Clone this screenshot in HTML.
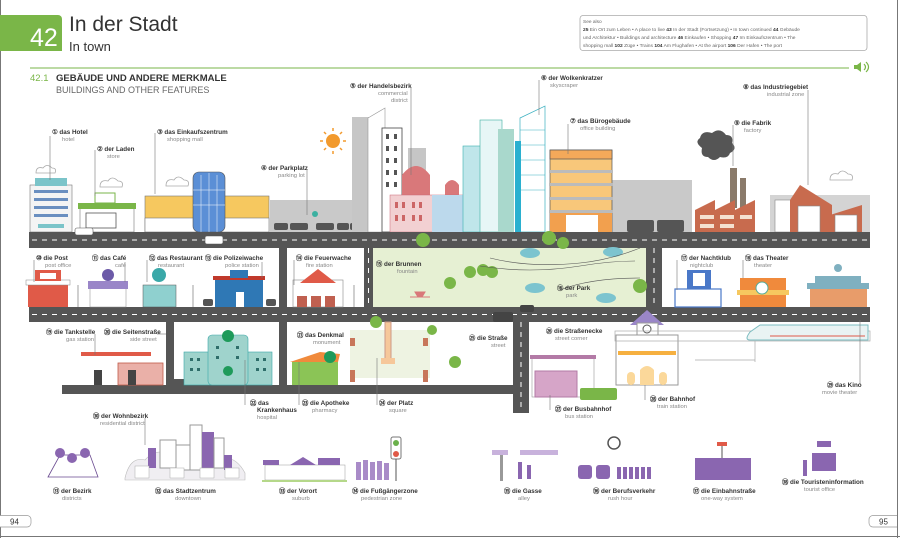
<!DOCTYPE html>
<html><head><meta charset="utf-8"><style>
html,body{margin:0;padding:0;background:#fff}
svg{display:block}
text{font-family:"Liberation Sans",sans-serif}
.b{font-size:6.3px;font-weight:bold;fill:#333}
.t{font-size:5.8px;fill:#888}
</style></head><body>
<svg width="900" height="538" viewBox="0 0 900 538" xmlns="http://www.w3.org/2000/svg">
<rect width="900" height="538" fill="#fff"/>
<line x1="0.5" y1="0" x2="0.5" y2="538" stroke="#777"/>
<line x1="897.5" y1="0" x2="897.5" y2="538" stroke="#777"/>
<line x1="0" y1="536.5" x2="900" y2="536.5" stroke="#777"/>
<!-- header -->
<path d="M0 15 H58 a4 4 0 0 1 4 4 V51 H0Z" fill="#7ab648"/>
<text x="30" y="46" font-size="25" fill="#fff">42</text>
<text x="69" y="31" font-size="21" fill="#333">In der Stadt</text>
<text x="69" y="51" font-size="13" fill="#333">In town</text>
<rect x="580" y="15.5" width="287" height="35" rx="3" fill="#fff" stroke="#aaa" stroke-width="0.8"/>
<text x="583" y="23" font-size="4.8" fill="#666">See also</text>
<text x="583" y="31" font-size="4.9" fill="#666"><tspan font-weight="bold" fill="#333">25</tspan> Ein Ort zum Leben • A place to live  <tspan font-weight="bold" fill="#333">43</tspan> In der Stadt (Fortsetzung) • In town continued  <tspan font-weight="bold" fill="#333">44</tspan> Gebäude</text>
<text x="583" y="39" font-size="4.9" fill="#666">und Architektur • Buildings and architecture  <tspan font-weight="bold" fill="#333">46</tspan> Einkaufen • Shopping  <tspan font-weight="bold" fill="#333">47</tspan> Im Einkaufszentrum • The</text>
<text x="583" y="47" font-size="4.9" fill="#666">shopping mall  <tspan font-weight="bold" fill="#333">102</tspan> Züge • Trains  <tspan font-weight="bold" fill="#333">104</tspan> Am Flughafen • At the airport  <tspan font-weight="bold" fill="#333">106</tspan> Der Hafen • The port</text>
<line x1="30" y1="68" x2="849" y2="68" stroke="#7ab648" stroke-width="1"/>
<path d="M854 65 h3 l4 -3 v10 l-4 -3 h-3z" fill="#7ab648"/>
<path d="M864 64 q3 3 0 6 M866 62 q5 5 0 10" stroke="#7ab648" fill="none" stroke-width="1.2"/>
<text x="30" y="81" font-size="9.5" fill="#7ab648">42.1</text>
<text x="56" y="81" font-size="9.5" font-weight="bold" fill="#333">GEBÄUDE UND ANDERE MERKMALE</text>
<text x="56" y="93" font-size="9" fill="#666">BUILDINGS AND OTHER FEATURES</text>

<!-- skyline background -->
<rect x="270" y="200" width="90" height="32" fill="#c9c9c9"/>
<rect x="612" y="180" width="80" height="52" fill="#c9c9c9"/>
<rect x="770" y="195" width="100" height="37" fill="#d4d4d4"/>
<!-- hotel -->
<rect x="30" y="185" width="42" height="47" fill="#f4f4f4" stroke="#777" stroke-width="0.6"/>
<rect x="35" y="178" width="32" height="8" fill="#7bc4c9"/>
<g fill="#6a8fc0"><rect x="34" y="190" width="34" height="3"/><rect x="34" y="198" width="34" height="3"/><rect x="34" y="206" width="34" height="3"/><rect x="34" y="214" width="34" height="3"/></g>
<rect x="38" y="224" width="26" height="4" fill="#7bc4c9"/>
<!-- laden -->
<rect x="80" y="205" width="54" height="27" fill="#fff" stroke="#777" stroke-width="0.6"/>
<rect x="78" y="203" width="58" height="6" fill="#7ab648"/>
<rect x="95" y="193" width="20" height="10" fill="#fff" stroke="#7ab648"/>
<rect x="86" y="213" width="30" height="15" fill="#fff" stroke="#555" stroke-width="0.8"/>
<!-- mall -->
<rect x="145" y="196" width="124" height="36" fill="#f6c85f" stroke="#777" stroke-width="0.6"/>
<rect x="145" y="218" width="124" height="14" fill="#fff" stroke="#777" stroke-width="0.6"/>
<rect x="193" y="172" width="32" height="60" rx="6" fill="#5b8fd6" stroke="#555" stroke-width="0.6"/>
<g stroke="#fff" stroke-width="0.5"><line x1="201" y1="175" x2="201" y2="232"/><line x1="209" y1="173" x2="209" y2="232"/><line x1="217" y1="175" x2="217" y2="232"/><line x1="193" y1="190" x2="225" y2="190"/><line x1="193" y1="205" x2="225" y2="205"/></g>
<!-- parking cars -->
<g fill="#555"><rect x="274" y="223" width="14" height="7" rx="2"/><rect x="290" y="223" width="18" height="7" rx="2"/><rect x="316" y="223" width="18" height="7" rx="2"/><rect x="337" y="223" width="12" height="7" rx="2"/><rect x="350" y="223" width="10" height="7" rx="2"/></g>
<circle cx="315" cy="214" r="3" fill="#3bb0a0"/>
<!-- sun -->
<circle cx="333" cy="141" r="7" fill="#f29a2e"/>
<g stroke="#f29a2e" stroke-width="1.5"><line x1="333" y1="128" x2="333" y2="131"/><line x1="333" y1="151" x2="333" y2="154"/><line x1="320" y1="141" x2="323" y2="141"/><line x1="343" y1="141" x2="346" y2="141"/><line x1="324" y1="132" x2="326" y2="134"/><line x1="340" y1="148" x2="342" y2="150"/><line x1="342" y1="132" x2="340" y2="134"/><line x1="324" y1="150" x2="326" y2="148"/></g>
<!-- commercial district -->
<rect x="352" y="117" width="26" height="115" fill="#c6c6c6"/>
<path d="M368 118 L385 108 V232 H368Z" fill="#fff" stroke="#999" stroke-width="0.6"/>
<rect x="382" y="128" width="20" height="104" fill="#fff" stroke="#444" stroke-width="0.8"/>
<g fill="#555"><rect x="386" y="134" width="3" height="5"/><rect x="394" y="134" width="3" height="5"/><rect x="386" y="146" width="3" height="5"/><rect x="394" y="146" width="3" height="5"/><rect x="386" y="158" width="3" height="5"/><rect x="394" y="158" width="3" height="5"/><rect x="386" y="170" width="3" height="5"/><rect x="394" y="170" width="3" height="5"/><rect x="386" y="182" width="3" height="5"/><rect x="394" y="182" width="3" height="5"/></g>
<rect x="408" y="148" width="18" height="84" fill="#c6c6c6"/>
<path d="M402 175 q14 -18 28 0 V232 H402Z" fill="#d9787a"/>
<path d="M445 185 q7 -10 14 0 V232 H445Z" fill="#d9787a"/>
<rect x="390" y="195" width="108" height="37" fill="#f2d0d2" stroke="#c67" stroke-width="0.5"/>
<rect x="432" y="195" width="40" height="37" fill="#bcd9ec"/>
<g fill="#c66"><rect x="395" y="202" width="3" height="6"/><rect x="402" y="202" width="3" height="6"/><rect x="395" y="215" width="3" height="6"/><rect x="402" y="215" width="3" height="6"/><rect x="412" y="202" width="3" height="6"/><rect x="419" y="202" width="3" height="6"/><rect x="412" y="215" width="3" height="6"/><rect x="419" y="215" width="3" height="6"/><rect x="480" y="202" width="3" height="6"/><rect x="487" y="202" width="3" height="6"/><rect x="480" y="215" width="3" height="6"/><rect x="487" y="215" width="3" height="6"/></g>
<!-- skyscrapers -->
<rect x="463" y="146" width="20" height="86" fill="#bfe6ea" stroke="#3bb0b0" stroke-width="0.6"/>
<rect x="480" y="120" width="22" height="112" fill="#e7f6f6" stroke="#3bb0a0" stroke-width="0.6"/>
<rect x="498" y="129" width="16" height="103" fill="#a9d8cc"/>
<path d="M520 118 L545 106 V232 H520Z" fill="#fff" stroke="#3ab0c0" stroke-width="0.7"/>
<rect x="515" y="141" width="6" height="91" fill="#2ab0d0"/>
<g stroke="#3ab0c0" stroke-width="0.5"><line x1="520" y1="130" x2="545" y2="130"/><line x1="520" y1="145" x2="545" y2="145"/><line x1="520" y1="160" x2="545" y2="160"/><line x1="520" y1="175" x2="545" y2="175"/><line x1="520" y1="190" x2="545" y2="190"/></g>
<!-- office -->
<rect x="550" y="150" width="62" height="82" fill="#f8c77a" stroke="#555" stroke-width="0.7"/>
<rect x="550" y="150" width="62" height="9" fill="#f4a95a" stroke="#555" stroke-width="0.7"/>
<g fill="#bbb"><rect x="549" y="170" width="64" height="3"/><rect x="549" y="183" width="64" height="3"/><rect x="549" y="197" width="64" height="3"/><rect x="549" y="210" width="64" height="3"/></g>
<rect x="550" y="213" width="62" height="19" fill="#f2a04e"/>
<rect x="566" y="215" width="32" height="17" fill="#fff"/>
<!-- vans -->
<g fill="#555"><rect x="627" y="220" width="27" height="12" rx="2"/><rect x="657" y="220" width="27" height="12" rx="2"/></g>
<!-- factory -->
<path d="M702 148 q-8 -6 -2 -10 q2 -8 12 -5 q8 -6 14 2 q8 0 6 8 q6 6 -2 10 q-2 6 -10 4 q-6 6 -12 0 q-8 0 -6 -9z" fill="#555"/>
<rect x="730" y="168" width="7" height="40" fill="#8a7a6a"/>
<rect x="740" y="178" width="6" height="30" fill="#8a7a6a"/>
<path d="M695 210 L715 200 V210 L735 200 V210 L755 200 V232 H695Z" fill="#c86b4e"/>
<g fill="#f4e0d0"><rect x="700" y="215" width="14" height="4"/><rect x="720" y="215" width="14" height="4"/><rect x="740" y="215" width="12" height="4"/><rect x="700" y="224" width="14" height="4"/><rect x="720" y="224" width="14" height="4"/></g>
<!-- industrial -->
<rect x="775" y="200" width="42" height="32" fill="#fff" stroke="#888" stroke-width="0.6"/>
<path d="M790 200 L800 185 L832 205 V232 H790Z" fill="#c86b4e"/>
<rect x="798" y="206" width="22" height="26" fill="#fff" stroke="#888" stroke-width="0.6"/>
<path d="M830 215 L862 205 V232 H830Z" fill="#c86b4e"/>
<rect x="835" y="215" width="22" height="17" fill="#fff" stroke="#888" stroke-width="0.6"/>
<rect x="760" y="233" width="38" height="12" rx="2" fill="#555"/><rect x="764" y="236" width="30" height="4" fill="#fff"/>
<g fill="none" stroke="#aaa" stroke-width="0.8"><path d="M100 187 q0 -8 8 -6 q4 -6 10 0 q6 0 4 6z"/><path d="M166 186 q0 -8 8 -6 q4 -6 10 0 q6 0 4 6z"/><path d="M830 180 q0 -8 8 -6 q4 -6 10 0 q6 0 4 6z"/><path d="M36 173 q0 -7 7 -5 q4 -5 9 0 q5 0 3 5z"/></g>

<!-- green areas -->
<rect x="373" y="248" width="273" height="59" fill="#e6f0d3"/>
<rect x="350" y="330" width="80" height="48" fill="#eef3e2"/>
<!-- roads -->
<g fill="#555">
<rect x="29" y="232" width="841" height="16"/>
<rect x="29" y="307" width="841" height="15"/>
<rect x="279" y="248" width="8" height="137"/>
<rect x="364" y="248" width="9" height="59"/>
<rect x="646" y="248" width="16" height="59"/>
<rect x="166" y="322" width="8" height="63"/>
<rect x="62" y="385" width="466" height="9"/>
<rect x="513" y="322" width="16" height="91"/>
</g>
<g stroke="#fff" stroke-width="1" stroke-dasharray="5 5">
<line x1="32" y1="240" x2="870" y2="240"/>
<line x1="32" y1="314.5" x2="870" y2="314.5"/>
<line x1="368.5" y1="248" x2="368.5" y2="307"/>
<line x1="654" y1="248" x2="654" y2="307"/>
<line x1="521" y1="322" x2="521" y2="412"/>
</g>
<rect x="205" y="236" width="18" height="8" rx="2" fill="#fff" stroke="#555" stroke-width="0.6"/>
<rect x="75" y="228" width="18" height="7" rx="2" fill="#fff" stroke="#555" stroke-width="0.6"/>
<!-- park items -->
<g fill="#7ab648"><circle cx="423" cy="240" r="7"/><circle cx="470" cy="272" r="6"/><circle cx="483" cy="270" r="6"/><circle cx="492" cy="272" r="6"/><circle cx="450" cy="283" r="6"/><circle cx="376" cy="322" r="6"/><circle cx="549" cy="238" r="7"/><circle cx="563" cy="243" r="6"/><circle cx="640" cy="286" r="7"/><circle cx="455" cy="362" r="6"/><circle cx="432" cy="330" r="5"/><circle cx="30" cy="290" r="0"/></g>
<g fill="#7cc4cf"><ellipse cx="530" cy="253" rx="10" ry="5"/><ellipse cx="535" cy="288" rx="10" ry="5"/><ellipse cx="606" cy="298" rx="10" ry="5"/><ellipse cx="613" cy="252" rx="10" ry="5"/></g>
<g stroke="#555" stroke-width="0.6" fill="none"><path d="M490 258 q40 10 90 5 q30 -3 60 -15"/><path d="M480 266 q50 8 100 0 q30 -5 55 -5"/><path d="M560 290 q30 -12 80 -12"/></g>
<path d="M410 297 h20 M415 292 h10 l-3 5 h-4z" stroke="#d9787a" fill="#d9787a"/>
<rect x="493" y="312" width="20" height="10" rx="2" fill="#444"/>
<rect x="520" y="305" width="14" height="7" rx="2" fill="#444"/>
<!-- row2 buildings -->
<rect x="28" y="283" width="40" height="24" fill="#e05a48"/><rect x="26" y="280" width="44" height="5" fill="#fff" stroke="#888" stroke-width="0.5"/><rect x="35" y="270" width="26" height="11" fill="#e05a48"/><rect x="40" y="273" width="16" height="6" fill="#fff"/>
<rect x="90" y="283" width="36" height="24" fill="#fff" stroke="#888" stroke-width="0.5"/><rect x="88" y="281" width="40" height="8" fill="#9a86c8"/><circle cx="108" cy="275" r="6" fill="#6c5aa8"/>
<rect x="143" y="285" width="33" height="22" fill="#8fd0cf" stroke="#555" stroke-width="0.5"/><circle cx="159" cy="275" r="7" fill="#3aa8a8"/>
<rect x="215" y="278" width="48" height="29" fill="#2f78b5"/><rect x="213" y="276" width="52" height="4" fill="#c0392b"/><rect x="230" y="270" width="18" height="8" fill="#2f78b5"/><rect x="236" y="292" width="8" height="15" fill="#fff"/>
<rect x="293" y="280" width="50" height="27" fill="#fff" stroke="#888" stroke-width="0.6"/><path d="M300 283 L318 269 L336 283Z" fill="#e05a48"/><g fill="#c06050"><rect x="297" y="296" width="10" height="11"/><rect x="311" y="296" width="10" height="11"/><rect x="325" y="296" width="10" height="11"/></g>
<rect x="675" y="289" width="46" height="18" fill="#fff" stroke="#4a78c8" stroke-width="1.2"/><rect x="687" y="270" width="24" height="19" fill="#4a78c8"/><rect x="693" y="273" width="12" height="13" fill="#fff"/>
<rect x="740" y="278" width="46" height="29" fill="#f08a3c"/><rect x="737" y="290" width="52" height="5" fill="#f6c85f"/><circle cx="762" cy="288" r="6" fill="#fff" stroke="#5a9"/>
<rect x="810" y="287" width="57" height="20" fill="#e89c6a"/><rect x="807" y="283" width="62" height="6" fill="#7fb0c0"/><rect x="815" y="276" width="46" height="8" fill="#7fb0c0"/><circle cx="838" cy="268" r="4" fill="#7fb0c0"/>
<g stroke="#777" stroke-width="0.7"><line x1="78" y1="285" x2="78" y2="307"/><line x1="193" y1="285" x2="193" y2="307"/><line x1="354" y1="285" x2="354" y2="307"/></g>
<g fill="#555"><rect x="203" y="299" width="10" height="7" rx="2"/><rect x="266" y="299" width="10" height="7" rx="2"/></g>
<!-- row3 -->
<rect x="81" y="352" width="70" height="4" fill="#e05a48"/><rect x="118" y="363" width="45" height="22" fill="#eab0a8" stroke="#c05a48" stroke-width="0.8"/><rect x="94" y="370" width="8" height="15" fill="#444"/><rect x="128" y="370" width="8" height="15" fill="#444"/>
<rect x="168" y="379" width="20" height="7" rx="2" fill="#555"/>
<rect x="184" y="352" width="88" height="33" fill="#9fd3cc" stroke="#3aa8a8" stroke-width="0.6"/><rect x="208" y="335" width="40" height="50" rx="4" fill="#9fd3cc" stroke="#3aa8a8" stroke-width="0.6"/>
<g fill="#2f6e6a"><rect x="190" y="358" width="3" height="3"/><rect x="197" y="358" width="3" height="3"/><rect x="190" y="368" width="3" height="3"/><rect x="197" y="368" width="3" height="3"/><rect x="256" y="358" width="3" height="3"/><rect x="263" y="358" width="3" height="3"/><rect x="256" y="368" width="3" height="3"/><rect x="263" y="368" width="3" height="3"/><rect x="216" y="346" width="3" height="3"/><rect x="236" y="346" width="3" height="3"/><rect x="216" y="356" width="3" height="3"/><rect x="236" y="356" width="3" height="3"/></g>
<circle cx="228" cy="336" r="6" fill="#1e9a5a"/><circle cx="228" cy="371" r="5" fill="#1e9a5a"/>
<path d="M292 362 L338 354 V385 H292Z" fill="#8bc456"/><path d="M290 362 L320 352 L340 354 L338 362Z" fill="#f08a3c"/><circle cx="330" cy="357" r="6" fill="#1e9a5a"/>
<rect x="385" y="322" width="6" height="40" fill="#f6c79a" stroke="#c98"/><rect x="381" y="358" width="14" height="6" fill="#f6c79a"/>
<g fill="#c8765a"><rect x="350" y="338" width="5" height="8"/><rect x="350" y="370" width="5" height="12"/><rect x="423" y="338" width="5" height="8"/><rect x="423" y="370" width="5" height="12"/></g>
<!-- bus station & train -->
<rect x="532" y="357" width="62" height="40" fill="#fff" stroke="#999" stroke-width="0.6"/><rect x="530" y="355" width="66" height="4" fill="#b37aa6"/><rect x="535" y="371" width="42" height="26" fill="#d6a5c8" stroke="#b37aa6"/>
<rect x="580" y="388" width="37" height="12" rx="2" fill="#7ab648"/>
<path d="M630 325 L647 310 L664 325Z" fill="#9a86c8"/><rect x="637" y="323" width="21" height="13" fill="#fff" stroke="#999"/><circle cx="647" cy="329" r="4" fill="none" stroke="#555"/>
<rect x="616" y="335" width="62" height="50" fill="#fff" stroke="#999"/><rect x="618" y="351" width="58" height="4" fill="#f6b040"/>
<g fill="#fbd89a"><path d="M640 385 V370 q7 -8 14 0 V385Z"/><rect x="627" y="372" width="8" height="13" rx="4"/><rect x="659" y="372" width="8" height="13" rx="4"/></g>
<g stroke="#aaa" stroke-width="0.7" fill="none"><rect x="615" y="331" width="255" height="10"/><line x1="695" y1="360" x2="755" y2="360"/><line x1="755" y1="341" x2="755" y2="362"/></g>
<path d="M760 325 H868 V340 H750 q-6 0 0 -8z" fill="#e9f3f3" stroke="#7bbcc0"/>
<line x1="770" y1="336" x2="865" y2="336" stroke="#e05a48"/>
<!-- leader lines -->
<g stroke="#777" stroke-width="0.6">
<line x1="50" y1="136" x2="50" y2="180"/><line x1="95" y1="150" x2="95" y2="196"/><line x1="155" y1="133" x2="155" y2="194"/><line x1="307" y1="170" x2="307" y2="215"/>
<line x1="411" y1="88" x2="411" y2="175"/><line x1="539" y1="80" x2="539" y2="115"/><line x1="568" y1="124" x2="568" y2="154"/><line x1="733" y1="125" x2="733" y2="166"/><line x1="808" y1="90" x2="808" y2="185"/>
<line x1="34" y1="260" x2="34" y2="282"/><line x1="125" y1="262" x2="125" y2="282"/><line x1="147" y1="260" x2="147" y2="282"/><line x1="262" y1="262" x2="262" y2="278"/><line x1="294" y1="260" x2="294" y2="285"/>
<line x1="677" y1="260" x2="677" y2="290"/><line x1="743" y1="260" x2="743" y2="278"/><line x1="860" y1="320" x2="860" y2="384"/>
<line x1="95" y1="334" x2="95" y2="355"/><line x1="157" y1="334" x2="166" y2="334"/><line x1="245" y1="360" x2="245" y2="405"/><line x1="299" y1="362" x2="299" y2="405"/><line x1="377" y1="358" x2="377" y2="405"/>
<line x1="550" y1="395" x2="550" y2="410"/><line x1="645" y1="385" x2="645" y2="400"/><line x1="145" y1="418" x2="145" y2="445"/>
</g>
<!-- labels -->
<g>
<text class="b" x="52" y="134">① das Hotel</text><text class="t" x="62" y="141">hotel</text>
<text class="b" x="97" y="151">② der Laden</text><text class="t" x="107" y="158">store</text>
<text class="b" x="157" y="134">③ das Einkaufszentrum</text><text class="t" x="167" y="141">shopping mall</text>
<text class="b" x="261" y="170">④ der Parkplatz</text><text class="t" x="278" y="177">parking lot</text>
<text class="b" x="350" y="88">⑤ der Handelsbezirk</text><text class="t" x="378" y="95">commercial</text><text class="t" x="391" y="102">district</text>
<text class="b" x="541" y="80">⑥ der Wolkenkratzer</text><text class="t" x="550" y="87">skyscraper</text>
<text class="b" x="570" y="123">⑦ das Bürogebäude</text><text class="t" x="580" y="130">office building</text>
<text class="b" x="743" y="89">⑧ das Industriegebiet</text><text class="t" x="767" y="96">industrial zone</text>
<text class="b" x="734" y="125">⑨ die Fabrik</text><text class="t" x="744" y="132">factory</text>
<text class="b" x="36" y="260">⑩ die Post</text><text class="t" x="45" y="267">post office</text>
<text class="b" x="92" y="260">⑪ das Café</text><text class="t" x="115" y="267">café</text>
<text class="b" x="149" y="260">⑫ das Restaurant</text><text class="t" x="158" y="267">restaurant</text>
<text class="b" x="205" y="260">⑬ die Polizeiwache</text><text class="t" x="225" y="267">police station</text>
<text class="b" x="296" y="260">⑭ die Feuerwache</text><text class="t" x="306" y="267">fire station</text>
<text class="b" x="376" y="266">⑮ der Brunnen</text><text class="t" x="397" y="273">fountain</text>
<text class="b" x="557" y="290">⑯ der Park</text><text class="t" x="566" y="297">park</text>
<text class="b" x="681" y="260">⑰ der Nachtklub</text><text class="t" x="690" y="267">nightclub</text>
<text class="b" x="745" y="260">⑱ das Theater</text><text class="t" x="754" y="267">theater</text>
<text class="b" x="46" y="334">⑲ die Tankstelle</text><text class="t" x="66" y="341">gas station</text>
<text class="b" x="104" y="334">⑳ die Seitenstraße</text><text class="t" x="130" y="341">side street</text>
<text class="b" x="297" y="337">㉑ das Denkmal</text><text class="t" x="313" y="344">monument</text>
<text class="b" x="250" y="405">㉒ das</text><text class="b" x="257" y="412">Krankenhaus</text><text class="t" x="257" y="419">hospital</text>
<text class="b" x="302" y="405">㉓ die Apotheke</text><text class="t" x="312" y="412">pharmacy</text>
<text class="b" x="379" y="405">㉔ der Platz</text><text class="t" x="389" y="412">square</text>
<text class="b" x="469" y="340">㉕ die Straße</text><text class="t" x="491" y="347">street</text>
<text class="b" x="546" y="333">㉖ die Straßenecke</text><text class="t" x="555" y="340">street corner</text>
<text class="b" x="555" y="411">㉗ der Busbahnhof</text><text class="t" x="565" y="418">bus station</text>
<text class="b" x="650" y="401">㉘ der Bahnhof</text><text class="t" x="657" y="408">train station</text>
<text class="b" x="827" y="387">㉙ das Kino</text><text class="t" x="822" y="394">movie theater</text>
<text class="b" x="93" y="418">㉚ der Wohnbezirk</text><text class="t" x="100" y="425">residential district</text>
</g>
<!-- bottom icons -->
<g fill="#8a66b0">
<path d="M48 477 L60 455 H90 L98 477Z" fill="#fff" stroke="#6a4a90" stroke-width="0.8"/>
<circle cx="60" cy="453" r="5"/><circle cx="72" cy="458" r="5"/><circle cx="85" cy="453" r="5"/>
<path d="M125 478 q5 -22 20 -18 q10 -12 25 -6 q15 -10 30 0 q15 -8 25 4 q12 0 20 15 V480 H125Z" fill="#f0eef2" stroke="#bbb" stroke-width="0.6"/>
<rect x="148" y="448" width="8" height="20"/><rect x="160" y="440" width="16" height="28" fill="#fff" stroke="#999"/><rect x="176" y="445" width="14" height="25" fill="#fff" stroke="#999"/>
<rect x="190" y="425" width="12" height="45" fill="#fff" stroke="#999"/><rect x="202" y="432" width="12" height="38" fill="#8a66b0"/><rect x="214" y="438" width="10" height="30" fill="#fff" stroke="#999"/><rect x="224" y="455" width="8" height="15"/>
<g fill="#fff" stroke="#aaa" stroke-width="0.5"><rect x="135" y="466" width="14" height="12"/><rect x="170" y="468" width="14" height="10"/><rect x="200" y="468" width="14" height="10"/><rect x="225" y="468" width="14" height="10"/></g>
<rect x="265" y="465" width="80" height="15" fill="#fff" stroke="#999" stroke-width="0.5"/><rect x="263" y="460" width="16" height="5"/><path d="M290 465 L303 457 L316 465Z"/><rect x="318" y="458" width="22" height="7"/>
<rect x="262" y="480" width="85" height="2" fill="#b5d88a"/>
<g fill="#a98bc8"><rect x="356" y="462" width="5" height="18"/><rect x="363" y="460" width="5" height="20"/><rect x="370" y="462" width="5" height="18"/><rect x="377" y="461" width="5" height="19"/><rect x="384" y="463" width="5" height="17"/></g>
<rect x="391" y="437" width="10" height="22" rx="2" fill="#fff" stroke="#777"/><circle cx="396" cy="443" r="3" fill="#6ab04a"/><circle cx="396" cy="454" r="3" fill="#e05a48"/><line x1="396" y1="459" x2="396" y2="481" stroke="#555"/>
<rect x="492" y="450" width="16" height="5" fill="#c8b2dc"/><rect x="520" y="450" width="38" height="5" fill="#c8b2dc"/><rect x="500" y="455" width="3" height="26" fill="#999"/>
<rect x="518" y="462" width="4" height="17"/><rect x="527" y="465" width="4" height="14"/>
<circle cx="614" cy="443" r="6" fill="none" stroke="#555" stroke-width="1.5"/>
<rect x="578" y="465" width="14" height="14" rx="3"/><rect x="596" y="465" width="14" height="14" rx="3"/>
<g fill="#8a66b0"><rect x="617" y="467" width="4" height="12"/><rect x="623" y="467" width="4" height="12"/><rect x="629" y="467" width="4" height="12"/><rect x="635" y="467" width="4" height="12"/><rect x="641" y="467" width="4" height="12"/><rect x="647" y="467" width="4" height="12"/></g>
<rect x="695" y="458" width="56" height="22"/>
<rect x="717" y="442" width="10" height="4" fill="#e05a48"/><line x1="722" y1="446" x2="722" y2="458" stroke="#555"/>
<rect x="817" y="441" width="14" height="6"/><rect x="812" y="453" width="24" height="18"/><rect x="803" y="460" width="4" height="16"/>
</g>
<g>
<text class="b" x="53" y="493">㉛ der Bezirk</text><text class="t" x="62" y="500">districts</text>
<text class="b" x="155" y="493">㉜ das Stadtzentrum</text><text class="t" x="175" y="500">downtown</text>
<text class="b" x="279" y="493">㉝ der Vorort</text><text class="t" x="292" y="500">suburb</text>
<text class="b" x="352" y="493">㉞ die Fußgängerzone</text><text class="t" x="361" y="500">pedestrian zone</text>
<text class="b" x="504" y="493">㉟ die Gasse</text><text class="t" x="518" y="500">alley</text>
<text class="b" x="593" y="493">㊱ der Berufsverkehr</text><text class="t" x="608" y="500">rush hour</text>
<text class="b" x="693" y="493">㊲ die Einbahnstraße</text><text class="t" x="701" y="500">one-way system</text>
<text class="b" x="782" y="484">㊳ die Touristeninformation</text><text class="t" x="804" y="491">tourist office</text>
</g>
<!-- page numbers -->
<path d="M0 515.5 H27 a4 4 0 0 1 4 4 V523 a4 4 0 0 1 -4 4 H0" fill="#fff" stroke="#999" stroke-width="0.7"/>
<text x="10" y="524.5" font-size="8" fill="#333">94</text>
<path d="M897 515.5 H873 a4 4 0 0 0 -4 4 V523 a4 4 0 0 0 4 4 H897" fill="#fff" stroke="#999" stroke-width="0.7"/>
<text x="879" y="524.5" font-size="8" fill="#333">95</text>
</svg>
</body></html>
